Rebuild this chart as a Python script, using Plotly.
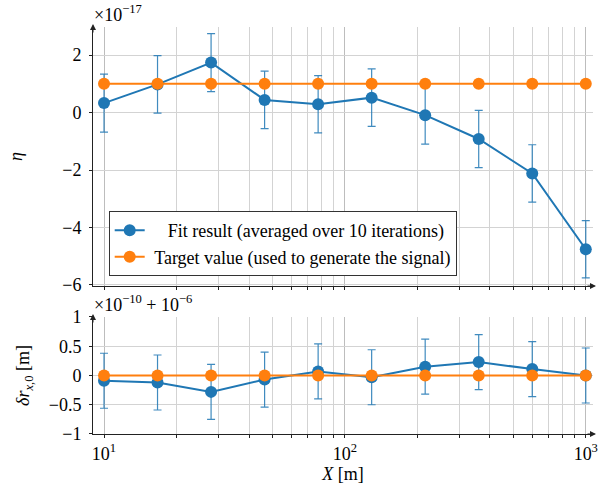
import plotly.graph_objects as go

# ---- data ----
x_vals = [10.0, 16.68, 27.83, 46.42, 77.43, 129.15, 215.44, 359.38, 599.48, 1000.0]
eta_fit = [0.33, 0.98, 1.74, 0.44, 0.29, 0.52, -0.09, -0.92, -2.12, -4.76]
eta_err = [1.01, 1.0, 1.01, 1.0, 1.0, 1.0, 1.01, 1.0, 1.0, 1.0]
eta_target = [1.0] * 10
dr_fit = [-0.09, -0.12, -0.28, -0.07, 0.07, -0.03, 0.15, 0.23, 0.11, 0.0]
dr_err = [0.47, 0.47, 0.47, 0.47, 0.47, 0.47, 0.47, 0.47, 0.47, 0.47]
dr_target = [0.0] * 10
major_ticks = [10, 100, 1000]
major_text = ["10<sup>1</sup>", "10<sup>2</sup>", "10<sup>3</sup>"]
minor_ticks = [20, 30, 40, 50, 60, 70, 80, 90, 200, 300, 400, 500, 600, 700, 800, 900]

BLUE = "#1f77b4"
ORANGE = "#ff7f0e"
FONT = "Liberation Serif"
FS = 18
NB = "\u00a0"

fig = go.Figure()
err_style = lambda arr: dict(type="data", array=arr, visible=True, color="rgba(31,119,180,0.85)",
                             thickness=1.2, width=4)

fig.add_trace(go.Scatter(x=x_vals, y=eta_fit, error_y=err_style(eta_err), mode="lines+markers",
                         line=dict(color=BLUE, width=2), marker=dict(size=12, color=BLUE),
                         name=NB * 4 + "Fit result (averaged over 10 iterations)", xaxis="x", yaxis="y"))
fig.add_trace(go.Scatter(x=x_vals, y=eta_target, mode="lines+markers",
                         line=dict(color=ORANGE, width=2), marker=dict(size=12, color=ORANGE),
                         name=NB + "Target value (used to generate the signal)", xaxis="x", yaxis="y"))
fig.add_trace(go.Scatter(x=x_vals, y=dr_fit, error_y=err_style(dr_err), mode="lines+markers",
                         line=dict(color=BLUE, width=2), marker=dict(size=12, color=BLUE),
                         showlegend=False, xaxis="x2", yaxis="y2"))
fig.add_trace(go.Scatter(x=x_vals, y=dr_target, mode="lines+markers",
                         line=dict(color=ORANGE, width=2), marker=dict(size=12, color=ORANGE),
                         showlegend=False, xaxis="x2", yaxis="y2"))

GRID = "#d3d3d3"
xcommon = dict(type="log", range=[0.9543, 3.030], showline=True, linecolor="#222", linewidth=1,
               tickmode="array", tickvals=major_ticks, ticktext=major_text,
               ticks="outside", ticklen=3, tickcolor="#222", automargin=False,
               showgrid=True, gridcolor="#bdbdbd", gridwidth=1, zeroline=False,
               minor=dict(tickmode="array", tickvals=minor_ticks, showgrid=True, gridcolor=GRID,
                          gridwidth=1, ticks="outside", ticklen=3, tickcolor="#222"),
               tickfont=dict(family=FONT, size=FS, color="black"))
ycommon = dict(showline=True, linecolor="#222", linewidth=1, ticks="outside", ticklen=3,
               tickcolor="#222", showgrid=True, gridcolor=GRID, gridwidth=1, zeroline=False,
               automargin=False,
               tickfont=dict(family=FONT, size=FS, color="black"), ticklabelstandoff=4)

TOPDOM = [0.3636, 1.0]
BOTDOM = [0.0, 0.2875]

fig.update_layout(
    width=608, height=490,
    margin=dict(l=93, r=15, t=27, b=56),
    paper_bgcolor="white", plot_bgcolor="white",
    font=dict(family=FONT, size=FS, color="black"),
    xaxis=dict(xcommon, domain=[0, 1], anchor="y", showticklabels=False, matches="x2"),
    xaxis2=dict(xcommon, domain=[0, 1], anchor="y2",
                title=dict(text="<i>X</i> [m]", font=dict(family=FONT, size=FS), standoff=0)),
    yaxis=dict(ycommon, domain=TOPDOM, anchor="x", range=[-6.04, 2.98], tickmode="array",
               tickvals=[-6, -4, -2, 0, 2],
               title=dict(text="<i>η</i>", font=dict(family=FONT, size=FS), standoff=34)),
    yaxis2=dict(ycommon, domain=BOTDOM, anchor="x2", range=[-1, 1], tickmode="array",
                tickvals=[-1, -0.5, 0, 0.5, 1],
                title=dict(text="<i>δr</i><sub><i>x</i>,0</sub> [m]", font=dict(family=FONT, size=FS),
                           standoff=14)),
    showlegend=True,
    legend=dict(x=0.0314, y=0.388, xref="paper", yref="paper", xanchor="left", yanchor="bottom",
                bgcolor="white", bordercolor="#333", borderwidth=1,
                font=dict(family=FONT, size=FS, color="black"), tracegroupgap=0, itemwidth=30),
)

annotations = [
    dict(text="×10<sup>−17</sup>", xref="x domain", yref="y domain", x=0, y=1, xanchor="left",
         yanchor="bottom", showarrow=False, font=dict(family=FONT, size=18), xshift=-1, yshift=0),
    dict(text="×10<sup>−10</sup> + 10<sup>−6</sup>", xref="x2 domain", yref="y2 domain", x=0, y=1,
         xanchor="left", yanchor="bottom", showarrow=False, font=dict(family=FONT, size=18),
         xshift=-1, yshift=0),
]
# axis arrows
for xa, ya in [("x", "y"), ("x2", "y2")]:
    annotations.append(dict(text="", xref=f"{xa} domain", yref=f"{ya} domain", x=0, y=1.0,
                            ax=0, ay=10, showarrow=True, arrowhead=2, arrowsize=1.2, arrowwidth=1,
                            arrowcolor="#222", yshift=3))
    annotations.append(dict(text="", xref=f"{xa} domain", yref=f"{ya} domain", x=1.0, y=0,
                            ax=-10, ay=0, showarrow=True, arrowhead=2, arrowsize=1.2, arrowwidth=1,
                            arrowcolor="#222", xshift=3))
fig.update_layout(annotations=annotations)

fig.write_html("out.html", config={"displayModeBar": False},
               post_script="document.body.style.margin='0';document.body.style.padding='0';")
